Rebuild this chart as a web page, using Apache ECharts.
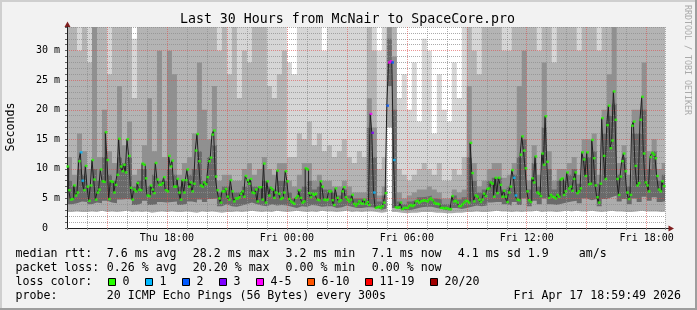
<!DOCTYPE html>
<html><head><meta charset="utf-8">
<script src="https://cdn.jsdelivr.net/npm/echarts@6/dist/echarts.min.js"></script>
<style>html,body{margin:0;padding:0;background:#f2f2f2}#c{width:697px;height:310px}</style>
</head><body><div id="c"></div>
<script>
// ---------- data ----------
const titleText = 'Last 30 Hours from McNair to SpaceCore.pro';
const yAxisName = 'Seconds';
const watermark = 'RRDTOOL / TOBI OETIKER';
const startMin = 780;   // Thu 13:00 (minutes from Thu 00:00)
const endMin = 2575;    // Fri 18:55
const stepMin = 5;      // median step (300 s)
const smokeStepMin = 15;
const dayNames = ['Thu', 'Fri'];

// median rtt (ms), one per 5-minute step, Thu 13:05 .. Fri 18:55
const medianMs = [
 10.4,6.4,4.8,4.9,7.2,5.5,6.0,11.3,12.8,8.0,6.4,10.5,
 7.0,4.6,7.2,11.5,8.2,4.8,6.0,6.5,9.9,7.9,7.8,16.2,
 11.5,4.9,7.9,7.8,6.0,7.3,9.0,15.1,10.4,9.6,10.7,9.4,
 15.0,12.2,6.8,4.8,6.5,6.2,7.6,6.5,6.4,10.9,10.7,8.4,
 5.5,5.4,7.2,6.5,5.9,11.0,8.2,7.3,7.3,7.6,8.6,6.4,
 6.2,12.2,10.4,11.4,7.0,7.0,8.3,6.0,4.8,8.1,6.0,8.1,
 9.9,7.0,7.7,6.2,7.5,13.1,15.9,11.3,7.2,7.0,7.7,7.4,
 8.6,11.3,11.9,15.8,16.5,8.7,6.4,5.0,4.3,6.2,6.2,6.6,
 5.3,4.8,8.1,6.2,4.5,5.0,5.0,5.2,5.8,6.2,5.3,8.8,
 8.1,7.5,8.3,6.0,5.9,6.5,4.5,6.9,6.9,4.8,10.9,4.3,
 7.9,5.5,6.8,6.5,5.1,6.0,9.7,5.8,4.9,5.1,6.0,9.6,
 7.9,4.9,4.5,4.3,4.1,5.1,5.4,6.4,5.1,4.3,4.5,10.1,
 9.9,5.9,5.2,5.8,5.6,5.8,4.8,4.7,7.9,7.0,4.8,4.7,
 4.8,6.2,6.2,4.7,3.9,6.7,5.1,4.5,4.7,6.2,6.9,5.2,
 4.8,4.5,4.8,5.6,4.1,3.8,4.1,4.5,4.2,4.1,4.8,4.1,
 4.4,3.9,19.3,16.1,6.0,3.4,3.5,3.6,3.4,3.7,4.3,5.9,
 20.7,28.0,28.2,28.0,11.5,3.5,3.4,3.5,4.3,3.2,3.4,3.4,
 3.4,3.7,3.9,3.7,3.9,4.5,4.6,4.3,4.5,4.6,4.7,4.6,
 4.5,4.8,5.0,4.7,4.3,4.1,4.1,4.0,3.4,3.4,3.3,3.4,
 3.3,3.2,3.2,5.4,4.5,4.6,4.3,3.7,3.7,4.0,4.3,4.6,
 4.5,4.3,14.4,9.3,4.5,5.5,5.3,4.8,4.4,4.8,5.8,5.4,
 6.6,6.7,7.7,7.5,5.3,8.5,5.9,8.5,7.3,5.3,6.3,5.3,
 4.4,6.0,7.0,9.8,8.5,5.5,4.8,4.7,12.4,15.5,13.1,10.1,
 6.2,4.7,4.4,8.4,7.7,12.1,6.0,5.8,5.4,12.6,10.7,18.9,
 11.2,5.1,5.6,5.3,5.2,5.0,5.6,5.3,8.2,8.4,5.6,6.2,
 9.4,6.7,7.0,6.3,8.3,9.4,5.9,6.2,6.7,12.8,11.6,8.8,
 12.8,7.4,7.5,14.9,11.8,7.2,5.2,4.3,7.5,18.6,12.2,8.3,
 17.4,20.7,13.5,14.8,23.1,18.3,8.3,5.6,8.7,11.3,12.6,9.6,
 6.0,4.9,5.6,17.3,18.0,10.5,7.2,7.6,18.3,22.2,12.6,7.7,
 7.2,6.2,12.0,12.7,12.4,11.8,8.8,6.5,6.2,7.9,7.1
];
// [step index, lost pings out of 20]
const lossSteps = [[8,1],[9,1],[182,4],[183,3],[184,1],[192,2],[193,4],[194,4],[195,2],[196,1],[268,1],[269,1]];

// smoke (ping distribution, ms), one per 15 minutes
const smokeMin = [
 2.7,2.8,2.7,2.7, 2.8,2.7,2.9,2.7, 2.8,2.7,2.8,2.9, 2.7,2.8,2.7,2.8, 2.6,2.7,2.8,2.7,
 2.8,2.7,2.7,2.8, 2.7,2.6,2.8,2.7, 2.8,2.7,2.6,2.7, 2.7,2.8,2.7,2.8, 2.9,2.8,2.7,2.8,
 2.7,2.9,2.8,2.7, 2.8,2.9,2.8,2.7, 2.8,2.7,2.9,2.8, 2.8,2.7,2.8,2.9, 2.7,2.8,2.7,2.8,
 2.8,2.7,2.6,2.7, 17.0,2.7,2.6,2.5, 2.6,2.6,2.7,2.7, 2.7,2.6,2.6,2.5, 2.5,2.6,2.6,2.7,
 2.7,2.8,2.7,2.7, 2.8,2.9,2.8,2.8, 2.7,2.8,2.7,2.8, 2.8,2.9,2.7,2.8, 2.8,2.7,2.8,2.9,
 2.8,2.9,2.8,2.8, 2.9,2.8,2.7,2.8, 2.9,2.8,2.8,2.7, 2.7,2.8,2.9,2.8, 2.8,2.8,2.7,2.8
];
const smokeP25 = [
 4.0,4.2,4.5,4.4, 4.0,4.3,4.2,4.6, 4.3,4.2,4.8,4.9, 4.8,3.9,4.2,4.6, 3.9,4.0,4.4,4.3,
 4.4,4.5,3.9,4.1, 4.5,4.3,4.8,4.4, 4.9,5.0,3.7,4.0, 3.7,3.6,3.8,4.0, 4.3,4.0,3.8,3.7,
 4.0,3.8,3.9,3.8, 3.6,3.4,3.7,3.6, 3.9,3.8,3.6,3.7, 3.7,3.4,3.5,3.8, 3.6,3.4,3.4,3.5,
 3.5,3.4,3.1,3.3, 24.0,3.4,3.1,3.0, 3.1,3.3,3.5,3.6, 3.6,3.4,3.2,3.0, 2.9,3.4,3.2,3.4,
 3.6,3.8,3.7,3.8, 4.3,4.4,4.4,4.0, 3.8,4.4,3.9,5.0, 3.7,4.6,4.0,5.0, 4.0,3.9,4.1,4.3,
 4.5,4.6,4.2,5.0, 4.7,4.9,3.7,4.9, 5.2,5.5,4.5,4.9, 4.0,5.0,4.4,5.3, 4.6,5.2,4.4,4.6
];
const smokeP60 = [
 8,7,10,9, 7,10,8,12, 9,8,12,11, 12,7,8,10, 7,9,8,8,
 10,9,7,8, 9,10,13,8, 12,14,6,7, 7,6,6,7, 8,7,7,8,
 7,6.5,8,8, 6,5,6.5,7, 8,6.5,7,6.5, 6.5,6,5.5,6.5, 5.5,5,5,5,
 17,12,4.5,5.5, 32,20,4.5,4, 4.5,4.8,5.2,5.3, 5.5,5,4.8,4, 4,5.5,4.8,5.2,
 12,8,6,6.5, 8,8.5,8.5,6.5, 7,9,12,15, 6.5,11,7,17, 10,6.5,8,8,
 9,10,7.5,12, 12,13,7.5,16, 19,21,9,12, 7,16,16,20, 10,13,8,9
];
const smokeP75 = [
 12,9,16,13, 10,36,12,20, 13,11,24,14, 18,9,10,14, 22,13,30,12,
 30,26,9,11, 12,16,28,20, 15,24,8,9, 9,8,8,10, 11,9,10,12,
 10,9,11,11, 8,7,9,11, 11,8,9,8, 8,7,7,8, 7,6,6,6,
 22,17,5.5,7, 36,29,6,5, 5.5,6,6.5,6.5, 7,6.5,6,5, 5,6.5,6,6.5,
 24,11,7,8, 10,11,11,8.5, 9,11,24,30, 8,14,9,28, 13,8,10,10,
 11,12,9,15, 15,16,9,20, 26,36,11,14, 9,20,20,28, 13,15,10,11
];
const smokeP90 = [
 40,40,30,40, 28,40,40,40, 26,40,40,36, 40,22,40,40, 40,34,40,40,
 40,40,40,40, 40,40,40,40, 40,40,30,40, 26,40,22,30, 28,36,40,36,
 24,22,26,30, 12,12,16,15, 18,14,16,13, 14,12,13,15, 12,11,13,12,
 40,30,10,12, 40,36,10,9, 8,9,10,11, 10,9,11,8, 8,10,9,12,
 40,30,26,40, 36,40,40,30, 30,40,40,40, 40,40,30,40, 40,28,36,40,
 40,40,30,40, 40,40,30,40, 40,40,36,40, 40,40,40,40, 40,40,36,40
];
const smokeMax = [
 40,40,40,40, 40,40,40,40, 40,40,40,40, 40,32,40,40, 40,40,40,40,
 40,40,40,40, 40,40,40,40, 40,40,40,40, 40,40,40,40, 40,40,40,40,
 40,40,40,40, 28,26,36,40, 40,36,40,30, 40,38,40,40, 40,36,40,38,
 40,40,30,34, 40,40,22,26, 20,28,18,32, 30,16,26,20, 18,28,22,36,
 40,40,40,40, 40,40,40,40, 40,40,40,40, 40,40,40,40, 40,40,40,40,
 40,40,40,40, 40,40,40,40, 40,40,40,40, 40,40,40,40, 40,40,40,40
];

const rttLabel = 'median rtt:';
const rttStats = ['7.6 ms avg', '28.2 ms max', '3.2 ms min', '7.1 ms now', '4.1 ms sd', '1.9', 'am/s'];
const lossLabel = 'packet loss:';
const lossStats = ['0.26 % avg', '20.20 % max', '0.00 % min', '0.00 % now'];
const colorLabel = 'loss color:';
const lossLegend = [['0','#26ff00'],['1','#00b8ff'],['2','#0059ff'],['3','#7e00ff'],['4-5','#ff00ff'],['6-10','#ff5500'],['11-19','#ff0000'],['20/20','#a10000']];
const probeLabel = 'probe:';
const probeText = '20 ICMP Echo Pings (56 Bytes) every 300s';
const dateText = 'Fri Apr 17 18:59:49 2026';

// ---------- chart ----------
const F = 'DejaVu Sans Mono';
const GRID_MINOR = 'rgba(143,143,143,0.75)';
const GRID_MAJOR = 'rgba(222,79,79,0.6)';
const lossMap = {}; lossSteps.forEach(([i, n]) => { lossMap[i] = n; });
function lossColor(n) {
  if (!n) return lossLegend[0][1];
  if (n <= 3) return lossLegend[n][1];
  if (n <= 5) return lossLegend[4][1];
  if (n <= 10) return lossLegend[5][1];
  if (n <= 19) return lossLegend[6][1];
  return lossLegend[7][1];
}
function smokeData(arr) {
  const d = arr.map((v, k) => [startMin + smokeStepMin * k, v]);
  d.push([startMin + smokeStepMin * arr.length, arr[arr.length - 1]]);
  return d;
}
function smokeSeries(arr, color) {
  return { type: 'line', data: smokeData(arr), step: 'end', symbol: 'none', showSymbol: false,
    lineStyle: { width: 0 }, areaStyle: { color: color, opacity: 1 }, z: -1, silent: true };
}
function pad(n) { return (n < 10 ? '0' : '') + n; }

const G = { left: 67, top: 27, right: 32, bottom: 82 };
const graphics = [];
graphics.push({ type: 'rect', shape: { x: 0, y: 0, width: 697, height: 2 }, style: { fill: '#cfcfcf' }, silent: true });
graphics.push({ type: 'rect', shape: { x: 0, y: 0, width: 2, height: 310 }, style: { fill: '#cfcfcf' }, silent: true });
graphics.push({ type: 'rect', shape: { x: 0, y: 308, width: 697, height: 2 }, style: { fill: '#9e9e9e' }, silent: true });
graphics.push({ type: 'rect', shape: { x: 695, y: 0, width: 2, height: 310 }, style: { fill: '#9e9e9e' }, silent: true });
graphics.push({ type: 'text', x: 347.5, y: 19.5, style: { text: titleText, font: '13.25px ' + F, fill: '#000', textAlign: 'center', textVerticalAlign: 'middle' } });
graphics.push({ type: 'text', x: 11, y: 127, rotation: Math.PI / 2, style: { text: yAxisName, font: '11.6px ' + F, fill: '#000', textAlign: 'center', textVerticalAlign: 'middle' } });
graphics.push({ type: 'text', x: 687, y: 60, rotation: -Math.PI / 2, style: { text: watermark, font: '8.3px ' + F, fill: '#aaaaaa', textAlign: 'center', textVerticalAlign: 'middle' } });
graphics.push({ type: 'line', shape: { x1: 665, y1: 228.5, x2: 669, y2: 228.5 }, style: { stroke: '#1f1f1f', lineWidth: 1 } });
graphics.push({ type: 'polygon', shape: { points: [[668.5, 225.5], [674, 228.5], [668.5, 231.5]] }, style: { fill: '#801f1f' } });
graphics.push({ type: 'polygon', shape: { points: [[64.5, 27], [67.5, 21.5], [70.5, 27]] }, style: { fill: '#801f1f' } });
const LF = '11.6px ' + F;
function txt(x, y, s, align) {
  graphics.push({ type: 'text', x: x, y: y, style: { text: s, font: LF, fill: '#000', textAlign: align || 'left', textVerticalAlign: 'middle' } });
}
const rowY = [254.3, 268, 282, 296];
const colX = [106.8, 192.8, 285.5, 371.8, 457.8, 527.8, 578.8];
txt(15.5, rowY[0], rttLabel);
rttStats.forEach((s, i) => txt(colX[i], rowY[0], s));
txt(15.5, rowY[1], lossLabel);
lossStats.forEach((s, i) => txt(colX[i], rowY[1], s));
txt(15.5, rowY[2], colorLabel);
const swX = [108.5, 145.5, 182.5, 219.5, 256.5, 307.5, 365.5, 430.5];
lossLegend.forEach(([lab, col], i) => {
  graphics.push({ type: 'rect', shape: { x: swX[i], y: 278.5, width: 7, height: 7 }, style: { fill: col, stroke: '#000', lineWidth: 1 } });
  txt(swX[i] + 14, rowY[2], lab);
});
txt(15.5, rowY[3], probeLabel);
txt(106.8, rowY[3], probeText);
txt(681, rowY[3], dateText, 'right');

const medianLine = medianMs.map((v, i) => [startMin + stepMin * (i + 1), v]);
const medianDots = medianMs.map((v, i) => ({ value: [startMin + stepMin * i + stepMin / 2, v], itemStyle: { color: lossColor(lossMap[i]) } }));

const chart = echarts.init(document.getElementById('c'), null, { renderer: 'canvas', width: 697, height: 310 });
chart.setOption({
  animation: false,
  backgroundColor: '#f2f2f2',
  grid: { left: G.left, top: G.top, right: G.right, bottom: G.bottom, show: true, backgroundColor: '#ffffff', borderWidth: 0, z: -2 },
  xAxis: {
    type: 'value', min: startMin, max: endMin, interval: 60,
    axisLine: { show: true, lineStyle: { color: '#1f1f1f', width: 1 } },
    axisTick: { show: true, length: 2, lineStyle: { color: '#888' } },
    axisLabel: { fontFamily: F, fontSize: 10, color: '#000', margin: 5,
      formatter: v => (v % 360 === 0) ? dayNames[v < 1440 ? 0 : 1] + ' ' + pad((v / 60) % 24) + ':00' : '' },
    splitLine: { show: true, lineStyle: { color: [GRID_MINOR, GRID_MINOR, GRID_MAJOR], type: [1, 1], width: 1 } }
  },
  yAxis: {
    type: 'value', min: 0, max: 34, interval: 1,
    axisLine: { show: true, lineStyle: { color: '#1f1f1f', width: 1 } },
    axisTick: { show: true, length: 2, lineStyle: { color: '#666' } },
    axisLabel: { fontFamily: F, fontSize: 10, color: '#000', margin: 7,
      formatter: v => (v % 5 === 0) ? (v === 0 ? '0  ' : v + ' m') : '' },
    splitLine: { show: true, lineStyle: { color: [GRID_MAJOR, GRID_MINOR, GRID_MINOR, GRID_MINOR, GRID_MINOR], type: [1, 1], width: 1 } }
  },
  series: [
    smokeSeries(smokeMax, '#d6d6d6'),
    smokeSeries(smokeP90, '#b4b4b4'),
    smokeSeries(smokeP75, '#909090'),
    smokeSeries(smokeP60, '#6a6a6a'),
    smokeSeries(smokeP25, '#acacac'),
    smokeSeries(smokeMin, '#ffffff'),
    { type: 'line', data: medianLine, step: 'start', symbol: 'none', showSymbol: false,
      lineStyle: { color: '#202020', width: 1 }, z: 3, silent: true },
    { type: 'scatter', data: medianDots, symbol: 'rect', symbolSize: [2.7, 2.4], z: 4, silent: true }
  ],
  graphic: graphics
});
</script>
</body></html>
